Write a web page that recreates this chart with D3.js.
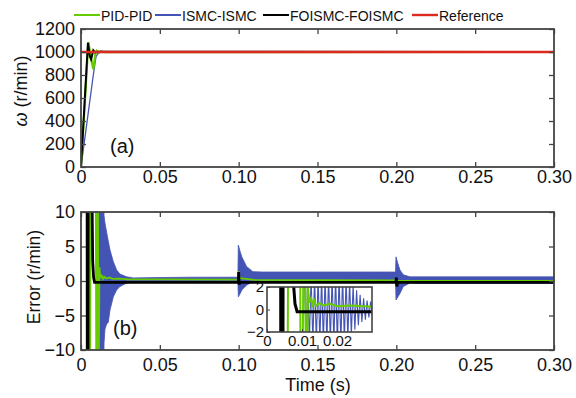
<!DOCTYPE html>
<html><head><meta charset="utf-8">
<script src="https://cdn.jsdelivr.net/npm/d3@7"></script>
<style>
body{margin:0;background:#fff}
svg{display:block}
text{font-family:"Liberation Sans",Arial,Helvetica,sans-serif;fill:#111}
</style>
</head><body>
<svg id="c" width="576" height="398"></svg>
<script>
// ---------- data ----------
const seriesNames = ["PID-PID", "ISMC-ISMC", "FOISMC-FOISMC", "Reference"];
const xTicks = [0, 0.05, 0.10, 0.15, 0.20, 0.25, 0.30];
const xTickLabels = ["0", "0.05", "0.10", "0.15", "0.20", "0.25", "0.30"];
const speedTicks = [0, 200, 400, 600, 800, 1000, 1200];
const errTicks = [-10, -5, 0, 5, 10];
const insetXTicks = [0, 0.01, 0.02];
const insetXTickLabels = ["0", "0.01", "0.02"];
const insetYTicks = [-2, 0, 2];

// speed (r/min) vs time (s)
const speedRef = [[0, 1000], [0.30, 1000]];
const speedPID = [[0, 0], [0.0047, 1087], [0.0063, 950], [0.0078, 850], [0.0092, 990], [0.0100, 1012],
  [0.0115, 995], [0.0130, 1003], [0.0150, 999], [0.30, 1000]];
const speedISMC = [[0, 0], [0.0078, 800], [0.0095, 960], [0.0110, 990], [0.0125, 1008], [0.0140, 995],
  [0.0160, 1004], [0.0180, 998], [0.0200, 1002], [0.30, 1000]];
const speedFOISMC = [[0, 0], [0.0044, 1080], [0.0056, 960], [0.0064, 935], [0.0078, 1015], [0.0090, 996],
  [0.0110, 1002], [0.30, 1000]];

// error (r/min) vs time (s)
const errPID = [[0, 1000], [0.0049, -87], [0.0078, 150], [0.0098, -25], [0.0106, 15], [0.0113, -12],
  [0.0117, 2.0], [0.0121, 0.6], [0.0126, 1.0], [0.0130, 0.4], [0.0135, 0.8], [0.0140, 0.3], [0.0150, 0.6],
  [0.0160, 0.35], [0.0180, 0.5], [0.0200, 0.3], [0.0240, 0.35], [0.0300, 0.25], [0.0500, 0.25],
  [0.0998, 0.2], [0.1001, 1.4], [0.1006, 0.4], [0.1100, 0.15], [0.1998, 0.1], [0.2001, -0.6],
  [0.2006, 0.0], [0.30, 0.0]];
const errFOISMC = [[0, 1000], [0.0042, -70], [0.0049, 60], [0.0074, 3], [0.0080, 0.5], [0.0086, -0.2],
  [0.0998, -0.2], [0.1000, 1.3], [0.1003, -0.5], [0.1008, -0.2], [0.1998, -0.2], [0.2000, 0.5],
  [0.2003, -0.8], [0.2008, -0.2], [0.30, -0.2]];
// ISMC chattering band: [t, lower, upper]
const errISMCBand = [[0, 1000, 1000], [0.0110, 30, 30], [0.0118, -30, 30], [0.0140, -30, 30],
  [0.0146, -9, 9.5], [0.0152, -7, 8.4], [0.0163, -6.2, 7], [0.0173, -6, 5.8], [0.0184, -4.2, 4.5],
  [0.0205, -2.3, 2.8], [0.0226, -1.3, 1.6], [0.0247, -0.8, 1.0], [0.0290, -0.3, 0.6], [0.0332, -0.1, 0.45],
  [0.0500, -0.05, 0.5], [0.0700, -0.05, 0.55], [0.0995, -0.05, 0.55], [0.0998, -2.3, 5.2],
  [0.1010, -1.8, 4.2], [0.1020, -1.3, 3.5], [0.1050, -0.6, 2.1], [0.1090, -0.1, 1.35], [0.1150, 0.1, 1.3],
  [0.1500, 0.15, 1.3], [0.1995, 0.15, 1.3], [0.1998, -2.75, 3.5], [0.2010, -2.3, 2.5], [0.2023, -1.8, 1.6],
  [0.2044, -0.8, 0.9], [0.2086, -0.3, 0.6], [0.2150, -0.35, 0.6], [0.30, -0.35, 0.6]];
// ISMC error as seen in the zoomed inset
const errISMCInset = [[0.0105, 5], [0.0112, -3], [0.0116, 3], [0.0121, -3], [0.0126, 3], [0.0131, -3],
  [0.0136, 3], [0.0141, -3], [0.0146, 3], [0.0151, -3], [0.0156, 3], [0.0161, -3], [0.0166, 3],
  [0.0171, -3], [0.0176, 3], [0.0181, -3], [0.0186, 3], [0.0191, -3], [0.0196, 3], [0.0201, -3],
  [0.0206, 3], [0.0211, -3], [0.0216, 3], [0.0221, -2.8], [0.0226, 2.8], [0.0231, -2.6], [0.0236, 2.6],
  [0.0241, -2.3], [0.0246, 2.2], [0.0251, -1.8], [0.0256, 1.7], [0.0261, -1.4], [0.0266, 1.3],
  [0.0271, -1.1], [0.0276, 1.0], [0.0281, -0.9], [0.0286, 0.8], [0.0291, -0.7], [0.0296, 0.7], [0.0301, -0.6]];

// ---------- styles ----------
const C = {pid: "#66cc00", ismc: "#4454b4", fo: "#000000", ref: "#dc2a1e", frame: "#444"};
const FONT = "Liberation Sans, Arial, Helvetica, sans-serif";

const svg = d3.select("#c");
const L = 81, R = 554;
const top1 = 29, bot1 = 167, top2 = 212, bot2 = 350;

const x = d3.scaleLinear().domain([0, 0.30]).range([L, R]);
const yS = d3.scaleLinear().domain([0, 1200]).range([bot1, top1]);
const yE = d3.scaleLinear().domain([-10, 10]).range([bot2, top2]);

const defs = svg.append("defs");
function clip(id, x0, y0, w, h) {
  defs.append("clipPath").attr("id", id).append("rect").attr("x", x0).attr("y", y0).attr("width", w).attr("height", h);
}
clip("c1", L, top1, R - L, bot1 - top1);
clip("c2", L, top2, R - L, bot2 - top2);

function drawAxes(y, yt, yTop, yBot, xLabPad, yFmt) {
  const gB = svg.append("g").attr("transform", `translate(0,${yBot})`)
    .call(d3.axisBottom(x).tickValues(xTicks).tickFormat((d, i) => xTickLabels[i]).tickSize(-5).tickPadding(xLabPad));
  const gT = svg.append("g").attr("transform", `translate(0,${yTop})`)
    .call(d3.axisTop(x).tickValues(xTicks).tickFormat("").tickSize(-5));
  const gL = svg.append("g").attr("transform", `translate(${L},0)`)
    .call(d3.axisLeft(y).tickValues(yt).tickFormat(yFmt).tickSize(-5).tickPadding(6));
  const gR = svg.append("g").attr("transform", `translate(${R},0)`)
    .call(d3.axisRight(y).tickValues(yt).tickFormat("").tickSize(-5));
  [gB, gT, gL, gR].forEach(g => {
    g.select(".domain").remove();
    g.selectAll(".tick line").attr("stroke", C.frame).attr("stroke-width", 1.3);
    g.selectAll("text").attr("font-family", FONT).attr("font-size", 18).attr("fill", "#111");
  });
  svg.append("rect").attr("x", L).attr("y", yTop).attr("width", R - L).attr("height", yBot - yTop)
    .attr("fill", "none").attr("stroke", C.frame).attr("stroke-width", 1.8);
}

// ---------- top: speed ----------
const g1 = svg.append("g").attr("clip-path", "url(#c1)");
const line1 = d3.line().x(d => x(d[0])).y(d => yS(d[1]));
g1.append("path").datum(speedISMC).attr("d", line1).attr("fill", "none").attr("stroke", C.ismc).attr("stroke-width", 1.3);
g1.append("path").datum(speedPID).attr("d", line1).attr("fill", "none").attr("stroke", C.pid).attr("stroke-width", 2.2);
g1.append("path").datum(speedFOISMC).attr("d", line1).attr("fill", "none").attr("stroke", C.fo).attr("stroke-width", 2);
g1.append("path").datum(speedRef).attr("d", line1).attr("fill", "none").attr("stroke", C.ref).attr("stroke-width", 2.6);
drawAxes(yS, speedTicks, top1, bot1, 3, d3.format("d"));

// ---------- bottom: error ----------
const g2 = svg.append("g").attr("clip-path", "url(#c2)");
const line2 = d3.line().x(d => x(d[0])).y(d => yE(d[1]));
const band2 = d3.area().x(d => x(d[0])).y0(d => yE(d[1])).y1(d => yE(d[2]));
g2.append("path").datum(errISMCBand).attr("d", band2).attr("fill", C.ismc).attr("stroke", C.ismc).attr("stroke-width", 0.8);
g2.append("path").datum(errPID).attr("d", line2).attr("fill", "none").attr("stroke", C.pid).attr("stroke-width", 1.8);
g2.append("path").datum(errFOISMC).attr("d", line2).attr("fill", "none").attr("stroke", C.fo).attr("stroke-width", 2.8);
drawAxes(yE, errTicks, top2, bot2, 8, d3.format("d"));

// ---------- inset ----------
const iL = 267, iR = 372, iT = 287, iB = 332;
const xi = d3.scaleLinear().domain([0, 0.03]).range([iL, iR]);
const yi = d3.scaleLinear().domain([-2, 2]).range([iB, iT]);
clip("ci", iL, iT, iR - iL, iB - iT);
svg.append("rect").attr("x", iL).attr("y", iT).attr("width", iR - iL).attr("height", iB - iT).attr("fill", "#fff");
const gi = svg.append("g").attr("clip-path", "url(#ci)");
const linei = d3.line().x(d => xi(d[0])).y(d => yi(d[1]));
gi.append("path").datum(errISMCInset).attr("d", linei).attr("fill", "none").attr("stroke", C.ismc).attr("stroke-width", 1.1);
gi.append("path").datum(errPID).attr("d", linei).attr("fill", "none").attr("stroke", C.pid).attr("stroke-width", 2);
gi.append("path").datum(errFOISMC).attr("d", linei).attr("fill", "none").attr("stroke", C.fo).attr("stroke-width", 3);
const giB = svg.append("g").attr("transform", `translate(0,${iB})`)
  .call(d3.axisBottom(xi).tickValues(insetXTicks).tickFormat((d, i) => insetXTickLabels[i]).tickSize(-3).tickPadding(3));
const giL = svg.append("g").attr("transform", `translate(${iL},0)`)
  .call(d3.axisLeft(yi).tickValues(insetYTicks).tickFormat(d3.format("d")).tickSize(-3).tickPadding(3));
[giB, giL].forEach(g => {
  g.select(".domain").remove();
  g.selectAll(".tick line").attr("stroke", C.frame);
  g.selectAll("text").attr("font-family", FONT).attr("font-size", 15).attr("fill", "#111");
});
svg.append("rect").attr("x", iL).attr("y", iT).attr("width", iR - iL).attr("height", iB - iT)
  .attr("fill", "none").attr("stroke", C.frame).attr("stroke-width", 1.6);

// ---------- labels ----------
svg.append("text").attr("x", 110).attr("y", 153).attr("font-size", 20).text("(a)");
svg.append("text").attr("x", 113).attr("y", 335).attr("font-size", 20).text("(b)");
const yl1 = svg.append("text").attr("transform", "translate(27,91) rotate(-90)").attr("text-anchor", "middle").attr("font-size", 18);
yl1.append("tspan").attr("font-style", "italic").text("ω");
yl1.append("tspan").text(" (r/min)");
svg.append("text").attr("transform", "translate(40,277) rotate(-90)").attr("text-anchor", "middle").attr("font-size", 17.5).text("Error (r/min)");
svg.append("text").attr("x", 318).attr("y", 391).attr("text-anchor", "middle").attr("font-size", 18).text("Time (s)");

// ---------- legend ----------
const legColors = [C.pid, C.ismc, C.fo, C.ref];
const legX = [74, 155, 263, 412];
const ly = 15;
seriesNames.forEach((name, i) => {
  svg.append("line").attr("x1", legX[i]).attr("x2", legX[i] + 26).attr("y1", ly).attr("y2", ly)
    .attr("stroke", legColors[i]).attr("stroke-width", i === 3 ? 2.4 : 2);
  svg.append("text").attr("x", legX[i] + 27).attr("y", ly + 5.5).attr("font-size", 14).text(name);
});
</script>
</body></html>
